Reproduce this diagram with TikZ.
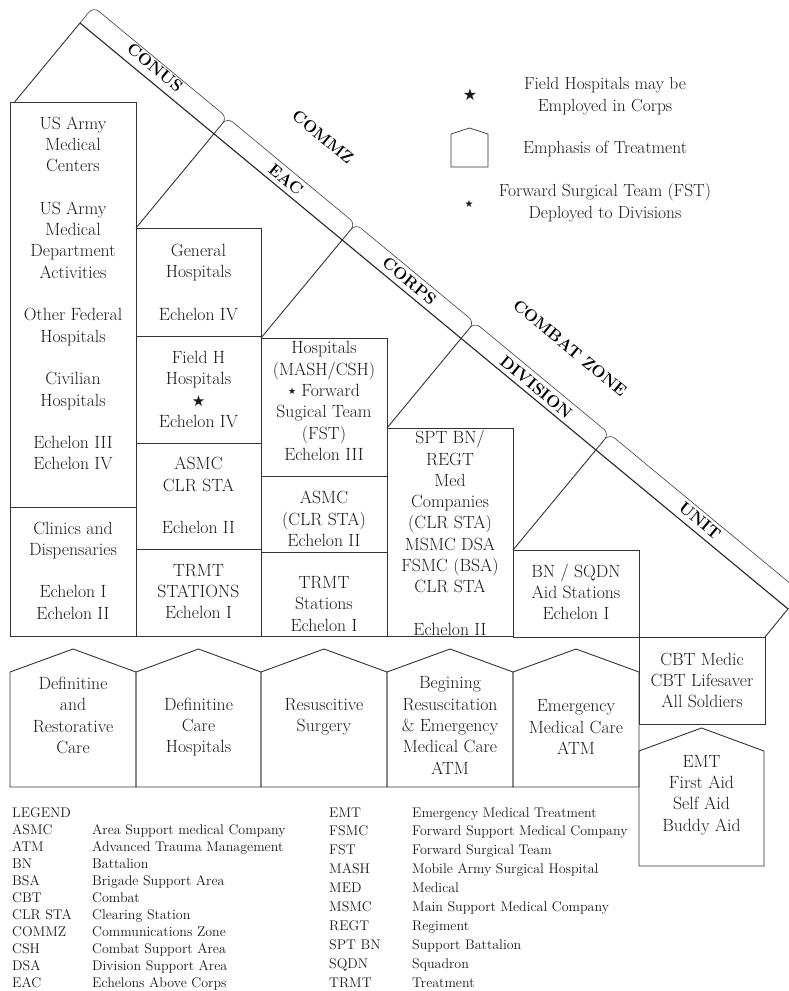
\documentclass[tikz,border=0pt]{standalone}
\usepackage{fontspec}
\newfontfamily\symfont{DejaVu Sans}
\begin{document}
\begin{tikzpicture}[x=1pt,y=-1pt,
  ln/.style={draw=black!80, line width=0.9pt},
  box/.style={ln, rectangle, inner sep=0pt, outer sep=0pt, anchor=north west},
  txt/.style={align=center, inner sep=0pt, text=black!90, font=\fontsize{17.7}{21.3}\selectfont},
  tab/.style={draw=black!75, line width=0.6pt, rounded corners=7pt},
  tablbl/.style={font=\fontsize{16.5}{16.5}\selectfont\bfseries, rotate=-39.6, inner sep=0pt, text=black},
  leg/.style={anchor=base west, inner sep=0pt, font=\fontsize{14}{17}\selectfont, text=black!90}]
\clip (0,0) rectangle (789,991);

% ---------- boxes ----------
\node[box, minimum width=126pt, minimum height=405pt] (c1a) at (10,102) {};
\node[box, minimum width=126pt, minimum height=129pt] (c1b) at (10,507) {};
\node[box, minimum width=125pt, minimum height=108pt] (c2a) at (136,228) {};
\node[box, minimum width=125pt, minimum height=107pt] (c2b) at (136,336) {};
\node[box, minimum width=125pt, minimum height=106pt] (c2c) at (136,443) {};
\node[box, minimum width=125pt, minimum height=87pt] (c2d) at (136,549) {};
\node[box, minimum width=126pt, minimum height=138pt] (c3a) at (261,338) {};
\node[box, minimum width=126pt, minimum height=76pt] (c3b) at (261,476) {};
\node[box, minimum width=126pt, minimum height=84pt] (c3c) at (261,552) {};
\node[box, minimum width=126pt, minimum height=208pt] (c4) at (387,428) {};
\node[box, minimum width=126pt, minimum height=87pt] (c5) at (513,550) {};
\node[box, minimum width=126pt, minimum height=87pt] (cbt) at (639,637) {};

% ---------- diagonal and tabs ----------
\coordinate (d0) at (80,23);
\coordinate (d1) at (213.9,133.8);
\coordinate (d2) at (342.2,240.0);
\coordinate (d3) at (461.1,338.4);
\coordinate (d4) at (595.9,449.9);
\coordinate (d5) at (788,608.9);
\coordinate (o0) at (93.4,6.8);
\coordinate (o1) at (227.3,117.6);
\coordinate (o2) at (355.6,223.8);
\coordinate (o3) at (474.5,322.2);
\coordinate (o4) at (609.3,433.7);
\coordinate (o5) at (801.4,592.7);
\coordinate (r0) at (14.6,102);

\draw[tab] (d0) -- (o0) -- (o1) -- (d1);
\draw[tab] (d1) -- (o1) -- (o2) -- (d2);
\draw[tab] (d2) -- (o2) -- (o3) -- (d3);
\draw[tab] (d3) -- (o3) -- (o4) -- (d4);
\draw[tab] (d4) -- (o4) -- (o5) -- (d5);
\draw[draw=black!85, line width=1.1pt] (d0) -- (d5);

\draw[ln] (r0) -- (d0);
\draw[ln] (c2a.north west) -- (d1);
\draw[ln] (c3a.north west) -- (d2);
\draw[ln] (c4.north west) -- (d3);
\draw[ln] (c5.north west) -- (d4);
\draw[ln] (cbt.north east) -- (d5);

\node[tablbl] (lconus) at (155,67.5) {CONUS};
\node[tablbl] (leac) at (286,179.5) {EAC};
\node[tablbl] (lcorps) at (409.5,281) {CORPS};
\node[tablbl] (ldiv) at (536,387) {DIVISION};
\node[tablbl] (lunit) at (700,520.5) {UNIT};
\node[tablbl] (lcommz) at (323,137) {COMMZ};
\node[tablbl] (lcz) at (570,348) {COMBAT ZONE};

% ---------- box texts ----------
\node[txt] (t1a) at (73,293.4) {US Army\\Medical\\Centers\\[21.3pt]US Army\\Medical\\Department\\Activities\\[21.3pt]Other Federal\\Hospitals\\[21.3pt]Civilian\\Hospitals\\[21.3pt]Echelon III\\Echelon IV};
\node[txt] (t1b) at (73,570.5) {Clinics and\\Dispensaries\\[21.3pt]Echelon I\\Echelon II};
\node[txt] (t2a) at (198.5,282.5) {General\\Hospitals\\[21.3pt]Echelon IV};
\node[txt] (t2b) at (198.5,389.5) {Field H\\Hospitals\\{\symfont\fontsize{15}{21.3}\selectfont ★}\\Echelon IV};
\node[txt] (t2c) at (198.5,495.5) {ASMC\\CLR STA\\[21.3pt]Echelon II};
\node[txt] (t2d) at (198.5,591.5) {TRMT\\STATIONS\\Echelon I};
\node[txt] (t3a) at (324,401) {Hospitals\\(MASH/CSH)\\\raisebox{2pt}{\symfont\fontsize{9}{9}\selectfont ★}~Forward\\Sugical Team\\(FST)\\Echelon III};
\node[txt] (t3b) at (324,519) {ASMC\\(CLR STA)\\Echelon II};
\node[txt] (t3c) at (324,604) {TRMT\\Stations\\Echelon I};
\node[txt] (t4) at (450,533) {SPT BN/\\REGT\\Med\\Companies\\(CLR STA)\\MSMC DSA\\FSMC (BSA)\\CLR STA\\[21.3pt]Echelon II};
\node[txt] (t5) at (576,592) {BN / SQDN\\Aid Stations\\Echelon I};
\node[txt] (tcbt) at (702,680.5) {CBT Medic\\CBT Lifesaver\\All Soldiers};

% ---------- emphasis pentagons ----------
\foreach \xa/\xb in {10/136,136/261,261/387,387/513,513/639}{
  \draw[ln] (\xa,787) -- (\xa,672) -- ({(\xa+\xb)/2},649) -- (\xb,672) -- (\xb,787) -- cycle;
}
\draw[ln] (639,866) -- (639,751) -- (701.5,728) -- (764,751) -- (764,866) -- cycle;

\node[txt] (p1) at (73,715.5) {Definitine\\and\\Restorative\\Care};
\node[txt] (p2) at (198.5,727) {Definitine\\Care\\Hospitals};
\node[txt] (p3) at (324,716.5) {Resuscitive\\Surgery};
\node[txt] (p4) at (450,725.5) {Begining\\Resuscitation\\\&~Emergency\\Medical Care\\ATM};
\node[txt] (p5) at (576,727) {Emergency\\Medical Care\\ATM};
\node[txt] (p6) at (701.5,795) {EMT\\First Aid\\Self Aid\\Buddy Aid};

% ---------- upper legend ----------
\node[inner sep=0pt, text=black!90, font=\symfont\fontsize{16}{16}\selectfont] (lstar) at (470,95) {★};
\node[txt, font=\fontsize{17.5}{22}\selectfont] (lt1) at (605,96) {Field Hospitals may be\\Employed in Corps};
\draw[ln, line width=0.7pt] (451,167) -- (451,134) -- (469.5,128) -- (488,134) -- (488,167) -- cycle;
\node[txt, font=\fontsize{17.5}{22}\selectfont] (lt2) at (605,149) {Emphasis of Treatment};
\node[inner sep=0pt, text=black!90, font=\symfont\fontsize{10}{10}\selectfont] (lstar2) at (469,204) {★};
\node[txt, font=\fontsize{17.5}{22}\selectfont] (lt3) at (605,203) {Forward Surgical Team (FST)\\Deployed to Divisions};

% ---------- bottom legend ----------
\node[leg] (lg) at (12,817) {LEGEND};
\foreach \ab/\df [count=\i] in {ASMC/Area Support medical Company, ATM/Advanced Trauma Management, BN/Battalion, BSA/Brigade Support Area, CBT/Combat, CLR STA/Clearing Station, COMMZ/Communications Zone, CSH/Combat Support Area, DSA/Division Support Area, EAC/Echelons Above Corps}{
  \node[leg] (la\i) at (12,{817+17*\i}) {\ab};
  \node[leg] (ld\i) at (92,{817+17*\i}) {\df};
}
\foreach \ab/\df [count=\i from 0] in {EMT/Emergency Medical Treatment, FSMC/Forward Support Medical Company, FST/Forward Surgical Team, MASH/Mobile Army Surgical Hospital, MED/Medical, MSMC/Main Support Medical Company, REGT/Regiment, SPT BN/Support Battalion, SQDN/Squadron, TRMT/Treatment}{
  \node[leg] (ra\i) at (329,{817+18.9*\i}) {\ab};
  \node[leg] (rd\i) at (412,{817+18.9*\i}) {\df};
}
\end{tikzpicture}
\end{document}
